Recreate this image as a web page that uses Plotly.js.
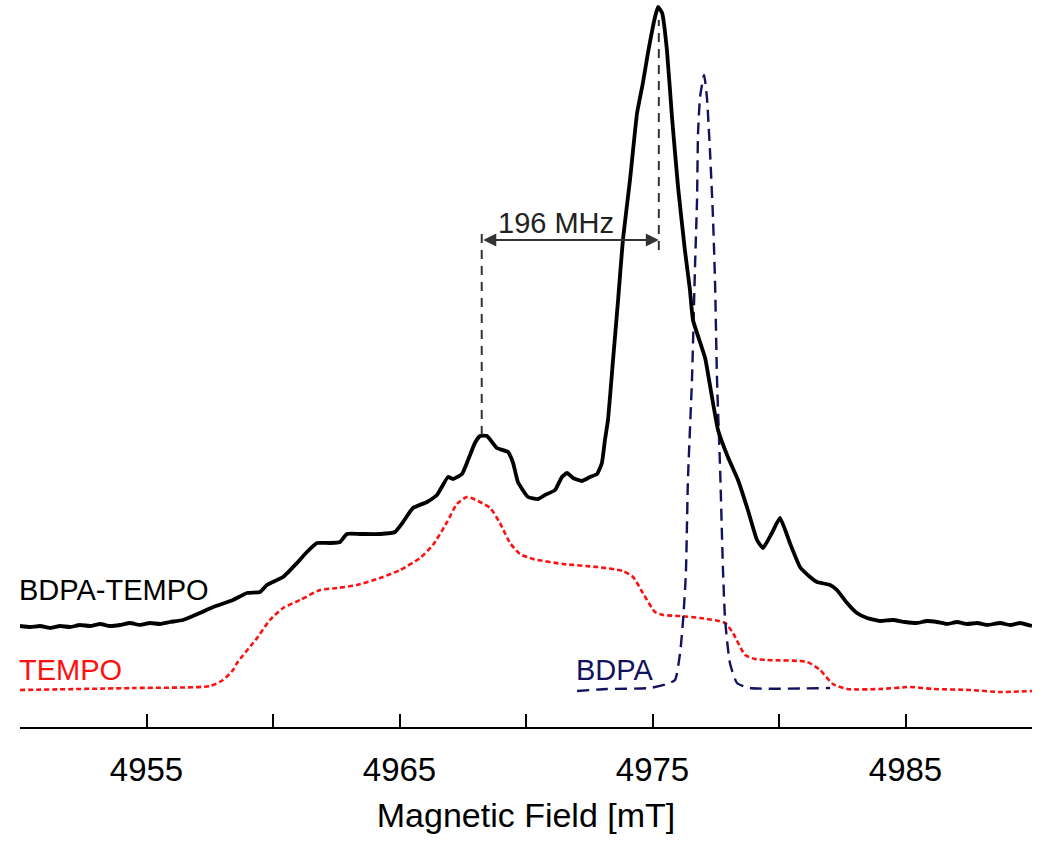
<!DOCTYPE html>
<html>
<head>
<meta charset="utf-8">
<script src="https://cdn.plot.ly/plotly-3.0.1.min.js"></script>
<style>body{margin:0;background:#fff}#chart{width:1050px;height:850px}</style>
</head>
<body>
<div id="chart"></div>
<script>
// BDPA-TEMPO spectrum (black, solid)
const bdpaTempoField = [4950.00,4950.40,4950.79,4951.19,4951.58,4951.98,4952.37,4952.77,4953.16,4953.56,4953.95,4954.35,4954.74,4955.14,4955.53,4955.93,4956.44,
  4957.11,4957.63,4958.42,4958.97,4959.49,4959.76,4960.40,4960.95,4961.34,4961.74,4962.25,4962.65,4962.92,4963.44,4964.23,4964.82,4965.14,4965.53,4966.09,4966.48,
  4966.92,4967.11,4967.47,4967.71,4967.98,4968.18,4968.46,4968.85,4969.29,4969.49,4969.68,4970.08,4970.47,4970.75,4971.15,4971.42,4971.62,4971.86,4972.21,4972.53,
  4972.81,4973.00,4973.12,4973.24,4973.44,4973.64,4973.83,4974.11,4974.39,4974.62,4974.82,4975.10,4975.22,4975.38,4975.57,4975.77,4976.01,4976.28,4976.48,4976.60,
  4977.08,4977.35,4977.59,4977.98,4978.38,4978.77,4979.13,4979.37,4979.72,4980.04,4980.43,4980.83,4981.23,4981.50,4982.02,4982.29,4982.69,4983.08,4983.48,
  4983.99,4984.51,4984.98,4985.45,4985.85,4986.25,4986.64,4987.04,4987.43,4987.83,4988.22,4988.74,4989.13,4989.53,4990.00];
const bdpaTempoSignal = [1.01,1.00,1.01,0.99,1.01,1.00,1.02,1.01,1.03,1.01,1.02,1.04,1.02,1.04,1.03,1.05,1.07,
  1.14,1.20,1.27,1.34,1.35,1.42,1.50,1.64,1.75,1.84,1.84,1.85,1.93,1.93,1.93,1.95,2.05,2.19,2.25,2.32,
  2.50,2.48,2.53,2.67,2.84,2.91,2.91,2.79,2.75,2.64,2.45,2.30,2.28,2.32,2.37,2.50,2.54,2.49,2.46,2.50,
  2.53,2.64,2.87,3.07,3.67,4.27,4.87,5.47,6.14,6.44,6.74,7.10,7.20,7.14,6.77,6.10,5.40,4.77,4.37,4.07,
  3.69,3.30,2.97,2.70,2.47,2.17,1.87,1.79,1.94,2.09,1.84,1.60,1.50,1.45,1.42,1.37,1.24,1.14,1.09,
  1.06,1.07,1.05,1.04,1.06,1.05,1.03,1.05,1.03,1.04,1.02,1.04,1.02,1.04,1.01];

// TEMPO spectrum (red, dotted)
const tempoField = [4950.00,4954.47,4957.51,4958.02,4958.42,4958.58,4959.21,4959.37,4959.88,4960.40,4961.07,4961.86,4962.53,4963.32,4964.23,4965.02,4965.81,
  4966.32,4966.88,4967.27,4967.67,4968.10,4968.58,4968.97,4969.37,4969.76,4970.28,4971.46,4972.81,4973.83,4974.23,4974.62,4975.10,4975.42,4976.09,4976.88,
  4977.87,4978.18,4978.66,4979.05,4979.53,4981.11,4981.62,4982.13,4982.69,4983.99,4985.18,4986.09,4987.55,4988.74,4990.00];
const tempoSignal = [0.37,0.39,0.41,0.47,0.57,0.64,0.84,0.89,1.07,1.19,1.27,1.37,1.39,1.42,1.49,1.57,1.69,
  1.82,2.05,2.23,2.30,2.26,2.19,2.04,1.84,1.73,1.68,1.63,1.60,1.56,1.50,1.34,1.15,1.12,1.11,1.09,
  1.04,0.94,0.72,0.68,0.67,0.65,0.57,0.43,0.38,0.38,0.40,0.38,0.37,0.35,0.36];

// BDPA spectrum (navy, dashed)
const bdpaField = [4972.02,4973.20,4974.90,4975.57,4975.89,4976.09,4976.21,4976.32,4976.40,4976.56,4976.68,4976.76,4976.80,4976.88,4977.04,4977.15,4977.27,
  4977.39,4977.47,4977.55,4977.67,4977.79,4977.87,4978.06,4978.34,4978.85,4982.02];
const bdpaSignal = [0.36,0.38,0.39,0.43,0.47,0.74,1.07,1.54,2.47,3.47,4.60,5.27,5.94,6.30,6.52,6.30,5.77,
  5.10,4.47,3.47,2.60,1.54,1.07,0.64,0.44,0.39,0.39];

const tickValues = [4950,4955,4960,4965,4970,4975,4980,4985,4990];
const tickLabels = ['','4955','','4965','','4975','','4985',''];
const peakFields = [4968.25, 4975.25];
const seriesLabels = ['BDPA-TEMPO','TEMPO','BDPA'];
const splittingLabel = '196 MHz';

const FONT = 'Liberation Sans, Arial, Helvetica, sans-serif';

const traces = [
  {x: tempoField, y: tempoSignal, type: 'scatter', mode: 'lines', name: 'TEMPO',
   line: {color: '#ff1010', width: 2.6, dash: '5px,3px', shape: 'spline', smoothing: 0.6}},
  {x: bdpaField, y: bdpaSignal, type: 'scatter', mode: 'lines', name: 'BDPA',
   line: {color: '#12125e', width: 2.4, dash: '12px,7px', shape: 'spline', smoothing: 0.5}},
  {x: bdpaTempoField, y: bdpaTempoSignal, type: 'scatter', mode: 'lines', name: 'BDPA-TEMPO',
   line: {color: '#000000', width: 3.8, shape: 'spline', smoothing: 0.4}}
];

const layout = {
  width: 1050, height: 850,
  margin: {l: 20, r: 18, t: 0, b: 123},
  paper_bgcolor: '#ffffff', plot_bgcolor: '#ffffff',
  showlegend: false,
  font: {family: FONT, color: '#000'},
  xaxis: {
    range: [4950, 4990], showgrid: false, zeroline: false,
    showline: true, linecolor: '#000', linewidth: 2,
    ticks: 'inside', ticklen: 13, tickwidth: 2, tickcolor: '#000',
    tickmode: 'array', tickvals: tickValues, ticktext: tickLabels,
    tickfont: {size: 33, family: FONT, color: '#000'},
    ticklabelstandoff: 12,
    title: {text: 'Magnetic Field [mT]', font: {size: 34, family: FONT, color: '#000'}, standoff: 17}
  },
  yaxis: {range: [0, 7.27], visible: false, fixedrange: true},
  shapes: [
    {type: 'line', xref: 'x', yref: 'y', x0: peakFields[0], x1: peakFields[0], y0: 2.92, y1: 4.97,
     line: {color: '#333', width: 2, dash: '9px,7px'}},
    {type: 'line', xref: 'x', yref: 'y', x0: peakFields[1], x1: peakFields[1], y0: 4.77, y1: 7.07,
     line: {color: '#333', width: 2, dash: '9px,7px'}}
  ],
  annotations: [
    {x: peakFields[1], y: 4.87, ax: peakFields[0], ay: 4.87, xref: 'x', yref: 'y', axref: 'x', ayref: 'y',
     text: '', showarrow: true, arrowside: 'end+start', arrowhead: 2, arrowsize: 1.3, arrowwidth: 2,
     arrowcolor: '#333', standoff: 0, startstandoff: 0},
    {x: 4971.2, y: 5.04, xref: 'x', yref: 'y', text: splittingLabel, showarrow: false,
     xanchor: 'center', yanchor: 'middle', font: {size: 29, family: FONT, color: '#222'}},
    {x: 4950, y: 1.37, xref: 'x', yref: 'y', text: seriesLabels[0], showarrow: false,
     xanchor: 'left', yanchor: 'middle', xshift: -3, font: {size: 29, family: FONT, color: '#000'}},
    {x: 4950, y: 0.57, xref: 'x', yref: 'y', text: seriesLabels[1], showarrow: false,
     xanchor: 'left', yanchor: 'middle', xshift: -3, font: {size: 29, family: FONT, color: '#ff1010'}},
    {x: 4972.02, y: 0.57, xref: 'x', yref: 'y', text: seriesLabels[2], showarrow: false,
     xanchor: 'left', yanchor: 'middle', xshift: -3, font: {size: 29, family: FONT, color: '#12125e'}}
  ]
};

Plotly.newPlot('chart', traces, layout, {displayModeBar: false, staticPlot: true});
</script>
</body>
</html>
